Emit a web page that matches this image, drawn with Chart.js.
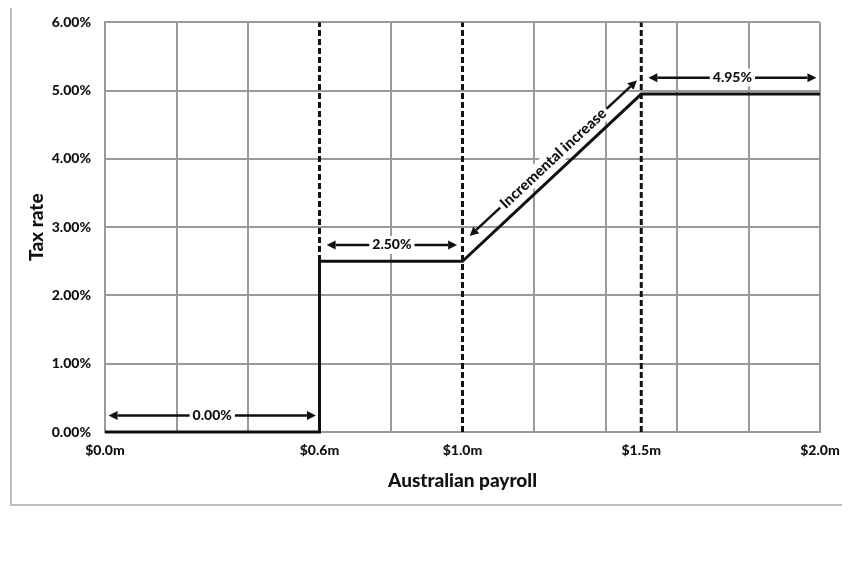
<!DOCTYPE html>
<html>
<head>
<meta charset="utf-8">
<script src="https://cdn.jsdelivr.net/npm/chart.js@4"></script>
<style>
  html, body { margin: 0; padding: 0; background: #fff; }
  #wrap { width: 862px; height: 575px; }
</style>
</head>
<body>
<div id="wrap"><canvas id="payroll-chart"></canvas></div>
<script>
// payroll tax rate by payroll size ($m -> %)
const payroll = [0, 0.6, 0.6, 1.0, 1.5, 2.0];
const taxRate = [0, 0, 2.5, 2.5, 4.95, 4.95];
const thresholds = [0.6, 1.0, 1.5];

const xGridValues = [0, 0.2, 0.4, 0.6, 0.8, 1.0, 1.2, 1.4, 1.6, 1.8, 2.0];
const xTickLabels = [0, 0.6, 1.0, 1.5, 2.0];
const yTicks = [0, 1, 2, 3, 4, 5, 6];

// annotation arrows (data units)
const bandLabels = ["0.00%", "2.50%", "4.95%"];
const bandStart = [0.01, 0.62, 1.52];
const bandEnd = [0.59, 0.985, 1.99];
const bandLevel = [0.24, 2.74, 5.19];

const slopeLabel = "Incremental increase";
const slopeStart = [1.02, 2.87];
const slopeEnd = [1.488, 5.15];

const INK = "#111";
const GRID = "#9a9a9a";
const FONT = "Lato";
const WEIGHT = "900";

function drawArrow(ctx, x1, y1, x2, y2) {
  const a = Math.atan2(y2 - y1, x2 - x1);
  const head = 9, half = 4.5;
  const c = Math.cos(a), s = Math.sin(a);
  ctx.beginPath();
  ctx.moveTo(x1 + c * head, y1 + s * head);
  ctx.lineTo(x2 - c * head, y2 - s * head);
  ctx.stroke();
  [[x1, y1, -c, -s], [x2, y2, c, s]].forEach(([x, y, dc, ds]) => {
    ctx.beginPath();
    ctx.moveTo(x, y);
    ctx.lineTo(x - dc * head - ds * half, y - ds * head + dc * half);
    ctx.lineTo(x - dc * head + ds * half, y - ds * head - dc * half);
    ctx.closePath();
    ctx.fill();
  });
}

function drawLabel(ctx, text, x, y, angle) {
  ctx.save();
  ctx.translate(x, y);
  ctx.rotate(angle);
  const w = ctx.measureText(text).width;
  ctx.fillStyle = "#fff";
  ctx.fillRect(-w / 2 - 3, -9, w + 6, 18);
  ctx.fillStyle = INK;
  ctx.textAlign = "center";
  ctx.textBaseline = "middle";
  ctx.fillText(text, 0, 0);
  ctx.restore();
}

const framePlugin = {
  id: "frame",
  beforeDraw(chart) {
    const ctx = chart.ctx;
    ctx.save();
    ctx.strokeStyle = "#bdbdbd";
    ctx.lineWidth = 2;
    ctx.beginPath();
    ctx.moveTo(11, 8);
    ctx.lineTo(11, 505);
    ctx.lineTo(842, 505);
    ctx.stroke();
    ctx.restore();
  }
};

const arrowPlugin = {
  id: "arrows",
  afterDatasetsDraw(chart) {
    const ctx = chart.ctx;
    const xs = chart.scales.x, ys = chart.scales.y;
    ctx.save();
    ctx.strokeStyle = INK;
    ctx.fillStyle = INK;
    ctx.lineWidth = 2.5;
    ctx.font = WEIGHT + " 14px " + FONT;
    bandLabels.forEach((label, i) => {
      const x1 = xs.getPixelForValue(bandStart[i]);
      const x2 = xs.getPixelForValue(bandEnd[i]);
      const y = ys.getPixelForValue(bandLevel[i]);
      drawArrow(ctx, x1, y, x2, y);
      drawLabel(ctx, label, (x1 + x2) / 2, y, 0);
    });
    const sx1 = xs.getPixelForValue(slopeStart[0]), sy1 = ys.getPixelForValue(slopeStart[1]);
    const sx2 = xs.getPixelForValue(slopeEnd[0]), sy2 = ys.getPixelForValue(slopeEnd[1]);
    ctx.fillStyle = INK;
    drawArrow(ctx, sx1, sy1, sx2, sy2);
    ctx.font = WEIGHT + " 15px " + FONT;
    drawLabel(ctx, slopeLabel, (sx1 + sx2) / 2, (sy1 + sy2) / 2, Math.atan2(sy2 - sy1, sx2 - sx1));
    ctx.restore();
  }
};

const stepData = payroll.map((x, i) => ({ x: x, y: taxRate[i] }));
const yMax = yTicks[yTicks.length - 1];

const datasets = [
  {
    data: stepData,
    showLine: true,
    borderColor: INK,
    borderWidth: 3,
    pointRadius: 0,
    fill: false,
    clip: 5
  }
].concat(thresholds.map(t => ({
  data: [{ x: t, y: 0 }, { x: t, y: yMax }],
  showLine: true,
  borderColor: INK,
  borderWidth: 3,
  borderDash: [6, 3],
  pointRadius: 0,
  fill: false,
  clip: 5
})));

const tickFont = { family: FONT, weight: WEIGHT, size: 14 };
const titleFont = { family: FONT, weight: WEIGHT, size: 19 };

new Chart(document.getElementById("payroll-chart"), {
  type: "scatter",
  data: { datasets: datasets },
  plugins: [framePlugin, arrowPlugin],
  options: {
    responsive: true,
    maintainAspectRatio: false,
    animation: false,
    layout: { padding: { left: 20, top: 17, right: 42, bottom: 83 } },
    plugins: { legend: { display: false }, tooltip: { enabled: false } },
    scales: {
      x: {
        type: "linear",
        min: xGridValues[0],
        max: xGridValues[xGridValues.length - 1],
        afterBuildTicks: s => {
          const vals = [...new Set([...xGridValues, ...xTickLabels])].sort((a, b) => a - b);
          s.ticks = vals.map(v => ({ value: v }));
        },
        afterFit: s => { s.height = 60; },
        ticks: {
          autoSkip: false,
          maxRotation: 0,
          padding: 10,
          color: INK,
          font: tickFont,
          callback: v => xTickLabels.includes(v) ? "$" + v.toFixed(1) + "m" : ""
        },
        grid: {
          drawTicks: false,
          lineWidth: 2,
          color: c => (c.tick && thresholds.includes(c.tick.value)) ? "rgba(0,0,0,0)" : GRID
        },
        border: { color: GRID, width: 2 },
        title: { display: true, text: "Australian payroll", color: INK, font: titleFont, padding: { top: 0, bottom: 0 } }
      },
      y: {
        min: yTicks[0],
        max: yMax,
        afterBuildTicks: s => { s.ticks = yTicks.map(v => ({ value: v })); },
        afterFit: s => { s.width = 85; },
        ticks: {
          padding: 14,
          color: INK,
          font: tickFont,
          callback: v => v.toFixed(2) + "%"
        },
        grid: { drawTicks: false, lineWidth: 2, color: GRID },
        border: { color: GRID, width: 2 },
        title: { display: true, text: "Tax rate", color: INK, font: titleFont, padding: { top: 5, bottom: 0 } }
      }
    }
  }
});
</script>
</body>
</html>
